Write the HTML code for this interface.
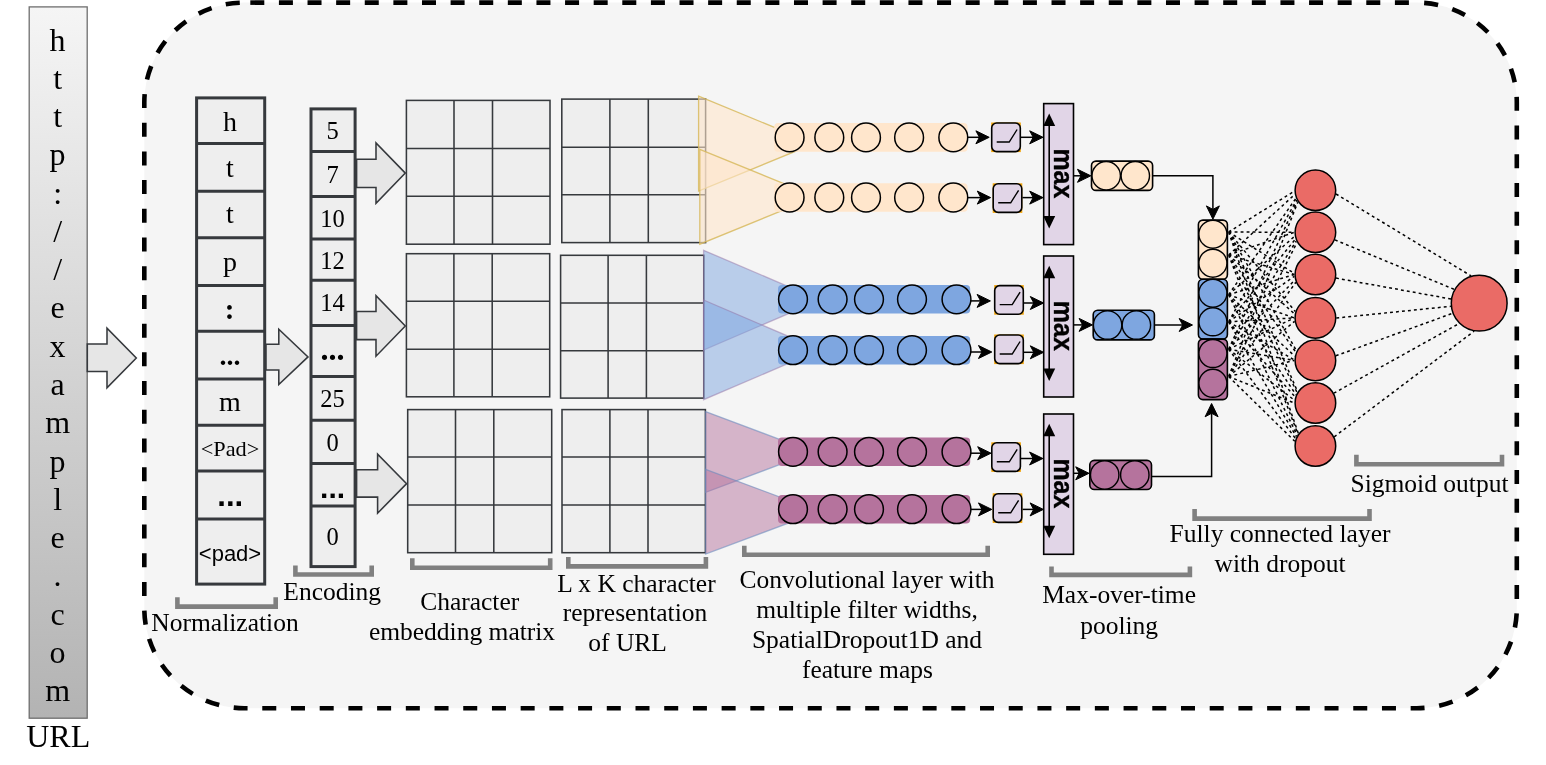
<!DOCTYPE html><html><head><meta charset="utf-8"><title>URL CNN architecture</title>
<style>html,body{margin:0;padding:0;background:#fff;overflow:hidden}svg{display:block;will-change:transform;opacity:.999}text{font-family:"Liberation Serif","DejaVu Serif",serif;fill:#000}.ss{font-family:"Liberation Sans","DejaVu Sans",sans-serif}.m{text-anchor:middle}</style></head><body>
<svg width="1546" height="765" viewBox="0 0 1546 765">
<defs><linearGradient id="ug" x1="0" y1="0" x2="0" y2="1"><stop offset="0" stop-color="#f5f5f5"/><stop offset="1" stop-color="#b3b3b3"/></linearGradient></defs>
<rect width="1546" height="765" fill="#fff"/>
<rect x="144.3" y="2.6" width="1372.5" height="705.6" rx="100" ry="100" fill="#f5f5f5"/>
<path d="M244.3 2.6H1416.8" fill="none" stroke="#000" stroke-width="4.6" stroke-dasharray="14 14.615" stroke-dashoffset="-6"/>
<path d="M1416.8 2.6A100 100 0 0 1 1516.8 102.6V608.2A100 100 0 0 1 1416.8 708.2H244.3A100 100 0 0 1 144.3 608.2V102.6A100 100 0 0 1 244.3 2.6" fill="none" stroke="#000" stroke-width="4.6" stroke-dasharray="14 14.71" stroke-dashoffset="-7.5"/>
<rect x="29.2" y="6.9" width="58" height="711.3" fill="url(#ug)" stroke="#6e6e6e" stroke-width="1.3"/>
<text class="m" x="57.6" y="50.6" font-size="32">h</text>
<text class="m" x="57.6" y="88.9" font-size="32">t</text>
<text class="m" x="57.6" y="127.1" font-size="32">t</text>
<text class="m" x="57.6" y="165.4" font-size="32">p</text>
<text class="m" x="57.6" y="203.6" font-size="32">:</text>
<text class="m" x="57.6" y="241.9" font-size="32">/</text>
<text class="m" x="57.6" y="280.2" font-size="32">/</text>
<text class="m" x="57.6" y="318.4" font-size="32">e</text>
<text class="m" x="57.6" y="356.7" font-size="32">x</text>
<text class="m" x="57.6" y="394.9" font-size="32">a</text>
<text class="m" x="57.6" y="433.2" font-size="32">m</text>
<text class="m" x="57.6" y="471.5" font-size="32">p</text>
<text class="m" x="57.6" y="509.7" font-size="32">l</text>
<text class="m" x="57.6" y="548.0" font-size="32">e</text>
<text class="m" x="57.6" y="586.2" font-size="32">.</text>
<text class="m" x="57.6" y="624.5" font-size="32">c</text>
<text class="m" x="57.6" y="662.8" font-size="32">o</text>
<text class="m" x="57.6" y="701.0" font-size="32">m</text>
<text class="m" x="58.2" y="746.6" font-size="32">URL</text>
<path d="M87.3 343.9H107V328.2L136.3 358.0L107 387.8V371.4H87.3Z" fill="#e6e6e6" stroke="#36393d" stroke-width="1.55" stroke-linejoin="miter"/>
<rect x="196.6" y="97.9" width="68.1" height="486.20000000000005" fill="#eeeeee" stroke="#36393d" stroke-width="3"/>
<path d="M196.6 143.4H264.7" stroke="#36393d" stroke-width="3"/>
<path d="M196.6 191.3H264.7" stroke="#36393d" stroke-width="3"/>
<path d="M196.6 237.7H264.7" stroke="#36393d" stroke-width="3"/>
<path d="M196.6 285.5H264.7" stroke="#36393d" stroke-width="3"/>
<path d="M196.6 331.3H264.7" stroke="#36393d" stroke-width="3"/>
<path d="M196.6 378.9H264.7" stroke="#36393d" stroke-width="3"/>
<path d="M196.6 425.2H264.7" stroke="#36393d" stroke-width="3"/>
<path d="M196.6 470.9H264.7" stroke="#36393d" stroke-width="3"/>
<path d="M196.6 518.9H264.7" stroke="#36393d" stroke-width="3"/>
<text class="m" x="230" y="130.7" font-size="28">h</text>
<text class="m" x="230" y="176.8" font-size="28">t</text>
<text class="m" x="230" y="223.3" font-size="28">t</text>
<text class="m" x="230" y="271.2" font-size="28">p</text>
<text class="m" x="229.7" y="319.3" font-size="29" font-weight="bold">:</text>
<text class="m" x="230" y="365.3" font-size="28" font-weight="bold">...</text>
<text class="m" x="230" y="410.6" font-size="28">m</text>
<text class="m" x="230" y="456.1" font-size="21.5" textLength="58.6" lengthAdjust="spacingAndGlyphs">&lt;Pad&gt;</text>
<text class="m ss" x="230.2" y="506.2" font-size="31" font-weight="bold">...</text>
<text class="m ss" x="230" y="560.5" font-size="22">&lt;pad&gt;</text>
<path d="M266 344.3H278.8V329.3L308 356.9L278.8 384.5V370H266Z" fill="#e6e6e6" stroke="#36393d" stroke-width="1.55" stroke-linejoin="miter"/>
<rect x="311.0" y="108.9" width="44.10000000000002" height="457.70000000000005" fill="#eeeeee" stroke="#36393d" stroke-width="3"/>
<path d="M311.0 151.5H355.1" stroke="#36393d" stroke-width="3"/>
<path d="M311.0 196.5H355.1" stroke="#36393d" stroke-width="3"/>
<path d="M311.0 239H355.1" stroke="#36393d" stroke-width="3"/>
<path d="M311.0 280.3H355.1" stroke="#36393d" stroke-width="3"/>
<path d="M311.0 325.6H355.1" stroke="#36393d" stroke-width="3"/>
<path d="M311.0 376.4H355.1" stroke="#36393d" stroke-width="3"/>
<path d="M311.0 420.2H355.1" stroke="#36393d" stroke-width="3"/>
<path d="M311.0 463.6H355.1" stroke="#36393d" stroke-width="3"/>
<path d="M311.0 506H355.1" stroke="#36393d" stroke-width="3"/>
<text class="m" x="332.6" y="139.4" font-size="24.5">5</text>
<text class="m" x="332.6" y="182.7" font-size="24.5">7</text>
<text class="m" x="332.6" y="227.3" font-size="24.5">10</text>
<text class="m" x="332.6" y="268.5" font-size="24.5">12</text>
<text class="m" x="332.6" y="311.4" font-size="24.5">14</text>
<text class="m" x="332.6" y="406.7" font-size="24.5">25</text>
<text class="m" x="332.6" y="451.1" font-size="24.5">0</text>
<text class="m" x="332.6" y="544.9" font-size="24.5">0</text>
<text class="m" x="332.6" y="360" font-size="32" font-weight="bold">...</text>
<text class="m ss" x="332.6" y="497.8" font-size="30" font-weight="bold">...</text>
<path d="M356.6 159.2H376V142.9L405.3 173.10000000000002L376 203.3V187.5H356.6Z" fill="#e6e6e6" stroke="#36393d" stroke-width="1.55" stroke-linejoin="miter"/>
<path d="M356.6 311.4H376V295.7L405.3 325.95L376 356.2V339.6H356.6Z" fill="#e6e6e6" stroke="#36393d" stroke-width="1.55" stroke-linejoin="miter"/>
<path d="M356.6 469.8H377.6V454.1L406.6 483.65000000000003L377.6 513.2V497.1H356.6Z" fill="#e6e6e6" stroke="#36393d" stroke-width="1.55" stroke-linejoin="miter"/>
<rect x="406.4" y="100.4" width="143.6" height="143.8" fill="#eeeeee" stroke="#36393d" stroke-width="1.55"/>
<path d="M454 100.4V244.2M492.5 100.4V244.2M406.4 148.5H550M406.4 196.3H550" stroke="#36393d" stroke-width="1.55" fill="none"/>
<rect x="561.8" y="99.1" width="143.8" height="143.5" fill="#eeeeee" stroke="#36393d" stroke-width="1.55"/>
<path d="M609.9 99.1V242.6M648.3 99.1V242.6M561.8 147.2H705.6M561.8 194.8H705.6" stroke="#36393d" stroke-width="1.55" fill="none"/>
<rect x="406.4" y="253.7" width="143.3" height="143.1" fill="#eeeeee" stroke="#36393d" stroke-width="1.55"/>
<path d="M453.9 253.7V396.8M492.2 253.7V396.8M406.4 301.3H549.7M406.4 349.2H549.7" stroke="#36393d" stroke-width="1.55" fill="none"/>
<rect x="560.6" y="255.3" width="143.2" height="142.8" fill="#eeeeee" stroke="#36393d" stroke-width="1.55"/>
<path d="M608.1 255.3V398.1M646.4 255.3V398.1M560.6 302.9H703.8M560.6 350.7H703.8" stroke="#36393d" stroke-width="1.55" fill="none"/>
<rect x="407.7" y="409.6" width="144.0" height="143.1" fill="#eeeeee" stroke="#36393d" stroke-width="1.55"/>
<path d="M455.5 409.6V552.7M493.8 409.6V552.7M407.7 456.9H551.7M407.7 505H551.7" stroke="#36393d" stroke-width="1.55" fill="none"/>
<rect x="562" y="409.6" width="143.4" height="143.1" fill="#eeeeee" stroke="#36393d" stroke-width="1.55"/>
<path d="M609.9 409.6V552.7M648 409.6V552.7M562 456.9H705.4M562 505H705.4" stroke="#36393d" stroke-width="1.55" fill="none"/>
<path d="M698.6 96.2L814 143.65L698.6 191.1Z" fill="#ffe6cc" fill-opacity="0.6" stroke="#d6b656" stroke-opacity="0.8" stroke-width="1.3"/>
<path d="M699.8 149.3L816 196.75L699.8 244.2Z" fill="#ffe6cc" fill-opacity="0.6" stroke="#d6b656" stroke-opacity="0.8" stroke-width="1.3"/>
<rect x="774.2" y="123.1" width="193.4" height="28.6" rx="4" fill="#ffe6cc"/>
<circle cx="789.6" cy="137.4" r="14.4" fill="#ffe6cc" stroke="#000" stroke-width="1.5"/>
<circle cx="829.3" cy="137.4" r="14.4" fill="#ffe6cc" stroke="#000" stroke-width="1.5"/>
<circle cx="866" cy="137.4" r="14.4" fill="#ffe6cc" stroke="#000" stroke-width="1.5"/>
<circle cx="909.1" cy="137.4" r="14.4" fill="#ffe6cc" stroke="#000" stroke-width="1.5"/>
<circle cx="953.3" cy="137.4" r="14.4" fill="#ffe6cc" stroke="#000" stroke-width="1.5"/>
<rect x="774.2" y="183.2" width="193.4" height="28.6" rx="4" fill="#ffe6cc"/>
<circle cx="789.6" cy="197.5" r="14.4" fill="#ffe6cc" stroke="#000" stroke-width="1.5"/>
<circle cx="829.3" cy="197.5" r="14.4" fill="#ffe6cc" stroke="#000" stroke-width="1.5"/>
<circle cx="866" cy="197.5" r="14.4" fill="#ffe6cc" stroke="#000" stroke-width="1.5"/>
<circle cx="909.1" cy="197.5" r="14.4" fill="#ffe6cc" stroke="#000" stroke-width="1.5"/>
<circle cx="953.3" cy="197.5" r="14.4" fill="#ffe6cc" stroke="#000" stroke-width="1.5"/>
<path d="M703.6 250.3L820 300.15L703.6 350Z" fill="#7ea6e0" fill-opacity="0.5" stroke="#9673a6" stroke-opacity="0.5" stroke-width="1.3"/>
<path d="M703.6 300L820 349.85L703.6 399.7Z" fill="#7ea6e0" fill-opacity="0.5" stroke="#9673a6" stroke-opacity="0.5" stroke-width="1.3"/>
<rect x="778" y="285.0" width="192.2" height="28.6" rx="4" fill="#7ea6e0"/>
<circle cx="793" cy="299.3" r="14.4" fill="#7ea6e0" stroke="#000" stroke-width="1.5"/>
<circle cx="832.6" cy="299.3" r="14.4" fill="#7ea6e0" stroke="#000" stroke-width="1.5"/>
<circle cx="869" cy="299.3" r="14.4" fill="#7ea6e0" stroke="#000" stroke-width="1.5"/>
<circle cx="912" cy="299.3" r="14.4" fill="#7ea6e0" stroke="#000" stroke-width="1.5"/>
<circle cx="956.5" cy="299.3" r="14.4" fill="#7ea6e0" stroke="#000" stroke-width="1.5"/>
<rect x="778" y="335.9" width="192.2" height="28.6" rx="4" fill="#7ea6e0"/>
<circle cx="793" cy="350.2" r="14.4" fill="#7ea6e0" stroke="#000" stroke-width="1.5"/>
<circle cx="832.6" cy="350.2" r="14.4" fill="#7ea6e0" stroke="#000" stroke-width="1.5"/>
<circle cx="869" cy="350.2" r="14.4" fill="#7ea6e0" stroke="#000" stroke-width="1.5"/>
<circle cx="912" cy="350.2" r="14.4" fill="#7ea6e0" stroke="#000" stroke-width="1.5"/>
<circle cx="956.5" cy="350.2" r="14.4" fill="#7ea6e0" stroke="#000" stroke-width="1.5"/>
<path d="M705.6 411.6L813 452.0L705.6 492.4Z" fill="#b5739d" fill-opacity="0.5" stroke="#6c8ebf" stroke-opacity="0.6" stroke-width="1.3"/>
<path d="M705.6 469.3L819 511.65L705.6 554Z" fill="#b5739d" fill-opacity="0.5" stroke="#6c8ebf" stroke-opacity="0.6" stroke-width="1.3"/>
<rect x="778" y="437.5" width="192.2" height="28.6" rx="4" fill="#b5739d"/>
<circle cx="793" cy="451.8" r="14.4" fill="#b5739d" stroke="#000" stroke-width="1.5"/>
<circle cx="832.6" cy="451.8" r="14.4" fill="#b5739d" stroke="#000" stroke-width="1.5"/>
<circle cx="869" cy="451.8" r="14.4" fill="#b5739d" stroke="#000" stroke-width="1.5"/>
<circle cx="912" cy="451.8" r="14.4" fill="#b5739d" stroke="#000" stroke-width="1.5"/>
<circle cx="956.5" cy="451.8" r="14.4" fill="#b5739d" stroke="#000" stroke-width="1.5"/>
<rect x="778" y="494.9" width="192.2" height="28.6" rx="4" fill="#b5739d"/>
<circle cx="793" cy="509.2" r="14.4" fill="#b5739d" stroke="#000" stroke-width="1.5"/>
<circle cx="832.6" cy="509.2" r="14.4" fill="#b5739d" stroke="#000" stroke-width="1.5"/>
<circle cx="869" cy="509.2" r="14.4" fill="#b5739d" stroke="#000" stroke-width="1.5"/>
<circle cx="912" cy="509.2" r="14.4" fill="#b5739d" stroke="#000" stroke-width="1.5"/>
<circle cx="956.5" cy="509.2" r="14.4" fill="#b5739d" stroke="#000" stroke-width="1.5"/>
<path d="M967.8 137.3H983.2" stroke="#000" stroke-width="1.5" fill="none"/>
<path transform="translate(989.2 137.3) rotate(0)" d="M0 0L-13.3 -6.5L-9.8 0L-13.3 6.5Z" fill="#000" stroke="#000" stroke-width="1" stroke-linejoin="miter"/>
<rect x="991.2" y="122.5" width="29.6" height="29.6" fill="#f0a30a"/>
<rect x="991.7" y="123.0" width="28.6" height="28.6" rx="5" fill="#e1d5e7" stroke="#000" stroke-width="1.6"/>
<path d="M996.7 142.0H1009.2L1017.1 129.5" stroke="#000" stroke-width="1.4" fill="none"/>
<path d="M1021 137.3H1037" stroke="#000" stroke-width="1.5" fill="none"/>
<path transform="translate(1043 137.3) rotate(0)" d="M0 0L-13.3 -6.5L-9.8 0L-13.3 6.5Z" fill="#000" stroke="#000" stroke-width="1" stroke-linejoin="miter"/>
<path d="M967.8 197.6H984.6" stroke="#000" stroke-width="1.5" fill="none"/>
<path transform="translate(990.6 197.6) rotate(0)" d="M0 0L-13.3 -6.5L-9.8 0L-13.3 6.5Z" fill="#000" stroke="#000" stroke-width="1" stroke-linejoin="miter"/>
<rect x="992.7" y="183.3" width="29.6" height="29.6" fill="#f0a30a"/>
<rect x="993.2" y="183.8" width="28.6" height="28.6" rx="5" fill="#e1d5e7" stroke="#000" stroke-width="1.6"/>
<path d="M998.2 202.8H1010.7L1018.6 190.3" stroke="#000" stroke-width="1.4" fill="none"/>
<path d="M1022.4 197.6H1037" stroke="#000" stroke-width="1.5" fill="none"/>
<path transform="translate(1043 197.6) rotate(0)" d="M0 0L-13.3 -6.5L-9.8 0L-13.3 6.5Z" fill="#000" stroke="#000" stroke-width="1" stroke-linejoin="miter"/>
<rect x="1043.7" y="103.6" width="29.8" height="141.0" fill="#e1d5e7" stroke="#000" stroke-width="1.6"/>
<path d="M1049.2 123.39999999999999V218.5" stroke="#000" stroke-width="1.6"/>
<path d="M1049.2 113.39999999999999l-6 12.5h12Z" fill="#000"/>
<path d="M1049.2 228.5l-6 -12.5h12Z" fill="#000"/>
<text class="ss" transform="translate(1053.5 148.4) rotate(90) scale(0.905 1)" font-size="27.6" stroke="#000" stroke-width="0.35" font-weight="bold">max</text>
<path d="M970.8 300.9H984.4" stroke="#000" stroke-width="1.5" fill="none"/>
<path transform="translate(990.4 300.9) rotate(0)" d="M0 0L-13.3 -6.5L-9.8 0L-13.3 6.5Z" fill="#000" stroke="#000" stroke-width="1" stroke-linejoin="miter"/>
<rect x="994.2" y="285.1" width="29.6" height="29.6" fill="#f0a30a"/>
<rect x="994.7" y="285.6" width="28.6" height="28.6" rx="5" fill="#e1d5e7" stroke="#000" stroke-width="1.6"/>
<path d="M999.7 304.6H1012.2L1020.1 292.1" stroke="#000" stroke-width="1.4" fill="none"/>
<path d="M1024 303H1037.6" stroke="#000" stroke-width="1.5" fill="none"/>
<path transform="translate(1043.6 303) rotate(0)" d="M0 0L-13.3 -6.5L-9.8 0L-13.3 6.5Z" fill="#000" stroke="#000" stroke-width="1" stroke-linejoin="miter"/>
<path d="M970.8 352H985.8" stroke="#000" stroke-width="1.5" fill="none"/>
<path transform="translate(991.8 352) rotate(0)" d="M0 0L-13.3 -6.5L-9.8 0L-13.3 6.5Z" fill="#000" stroke="#000" stroke-width="1" stroke-linejoin="miter"/>
<rect x="994.2" y="334.5" width="29.6" height="29.6" fill="#f0a30a"/>
<rect x="994.7" y="335.0" width="28.6" height="28.6" rx="5" fill="#e1d5e7" stroke="#000" stroke-width="1.6"/>
<path d="M999.7 354.0H1012.2L1020.1 341.5" stroke="#000" stroke-width="1.4" fill="none"/>
<path d="M1024 352.3H1037.6" stroke="#000" stroke-width="1.5" fill="none"/>
<path transform="translate(1043.6 352.3) rotate(0)" d="M0 0L-13.3 -6.5L-9.8 0L-13.3 6.5Z" fill="#000" stroke="#000" stroke-width="1" stroke-linejoin="miter"/>
<rect x="1043.7" y="256" width="29.8" height="141.0" fill="#e1d5e7" stroke="#000" stroke-width="1.6"/>
<path d="M1049.2 275.8V370.9" stroke="#000" stroke-width="1.6"/>
<path d="M1049.2 265.8l-6 12.5h12Z" fill="#000"/>
<path d="M1049.2 380.9l-6 -12.5h12Z" fill="#000"/>
<text class="ss" transform="translate(1053.5 300.8) rotate(90) scale(0.905 1)" font-size="27.6" stroke="#000" stroke-width="0.35" font-weight="bold">max</text>
<path d="M970.8 453.2H985" stroke="#000" stroke-width="1.5" fill="none"/>
<path transform="translate(991 453.2) rotate(0)" d="M0 0L-13.3 -6.5L-9.8 0L-13.3 6.5Z" fill="#000" stroke="#000" stroke-width="1" stroke-linejoin="miter"/>
<rect x="991.3" y="442.3" width="29.6" height="29.6" fill="#f0a30a"/>
<rect x="991.8" y="442.8" width="28.6" height="28.6" rx="5" fill="#e1d5e7" stroke="#000" stroke-width="1.6"/>
<path d="M996.8 461.8H1009.3L1017.2 449.3" stroke="#000" stroke-width="1.4" fill="none"/>
<path d="M1021 458.5H1036.9" stroke="#000" stroke-width="1.5" fill="none"/>
<path transform="translate(1042.9 458.5) rotate(0)" d="M0 0L-13.3 -6.5L-9.8 0L-13.3 6.5Z" fill="#000" stroke="#000" stroke-width="1" stroke-linejoin="miter"/>
<path d="M970.8 509.4H985.8" stroke="#000" stroke-width="1.5" fill="none"/>
<path transform="translate(991.8 509.4) rotate(0)" d="M0 0L-13.3 -6.5L-9.8 0L-13.3 6.5Z" fill="#000" stroke="#000" stroke-width="1" stroke-linejoin="miter"/>
<rect x="992.7" y="493.3" width="29.6" height="29.6" fill="#f0a30a"/>
<rect x="993.2" y="493.8" width="28.6" height="28.6" rx="5" fill="#e1d5e7" stroke="#000" stroke-width="1.6"/>
<path d="M998.2 512.8H1010.7L1018.6 500.3" stroke="#000" stroke-width="1.4" fill="none"/>
<path d="M1022.6 509.4H1037.4" stroke="#000" stroke-width="1.5" fill="none"/>
<path transform="translate(1043.4 509.4) rotate(0)" d="M0 0L-13.3 -6.5L-9.8 0L-13.3 6.5Z" fill="#000" stroke="#000" stroke-width="1" stroke-linejoin="miter"/>
<rect x="1043.7" y="414" width="29.8" height="140.3" fill="#e1d5e7" stroke="#000" stroke-width="1.6"/>
<path d="M1049.2 433.8V528.1999999999999" stroke="#000" stroke-width="1.6"/>
<path d="M1049.2 423.8l-6 12.5h12Z" fill="#000"/>
<path d="M1049.2 538.1999999999999l-6 -12.5h12Z" fill="#000"/>
<text class="ss" transform="translate(1053.5 458.4) rotate(90) scale(0.905 1)" font-size="27.6" stroke="#000" stroke-width="0.35" font-weight="bold">max</text>
<path d="M1073.5 175.8H1084.8" stroke="#000" stroke-width="1.5" fill="none"/>
<path transform="translate(1090.8 175.8) rotate(0)" d="M0 0L-13.3 -6.5L-9.8 0L-13.3 6.5Z" fill="#000" stroke="#000" stroke-width="1" stroke-linejoin="miter"/>
<rect x="1091.5" y="161.1" width="61.1" height="29.3" rx="4.5" fill="#ffe6cc" stroke="#000" stroke-width="1.6"/>
<circle cx="1106.2" cy="175.7" r="14.2" fill="#ffe6cc" stroke="#000" stroke-width="1.4"/>
<circle cx="1135.3" cy="175.7" r="14.2" fill="#ffe6cc" stroke="#000" stroke-width="1.4"/>
<path d="M1073.5 324.9H1086.4" stroke="#000" stroke-width="1.5" fill="none"/>
<path transform="translate(1092.4 324.9) rotate(0)" d="M0 0L-13.3 -6.5L-9.8 0L-13.3 6.5Z" fill="#000" stroke="#000" stroke-width="1" stroke-linejoin="miter"/>
<rect x="1093.2" y="310.3" width="61.2" height="29.6" rx="4.5" fill="#7ea6e0" stroke="#000" stroke-width="1.6"/>
<circle cx="1107.6" cy="325.1" r="14.2" fill="#7ea6e0" stroke="#000" stroke-width="1.4"/>
<circle cx="1136.4" cy="325.1" r="14.2" fill="#7ea6e0" stroke="#000" stroke-width="1.4"/>
<path d="M1073.5 473.3H1083" stroke="#000" stroke-width="1.5" fill="none"/>
<path transform="translate(1089 473.3) rotate(0)" d="M0 0L-13.3 -6.5L-9.8 0L-13.3 6.5Z" fill="#000" stroke="#000" stroke-width="1" stroke-linejoin="miter"/>
<rect x="1089.8" y="460.4" width="61.7" height="29.1" rx="4.5" fill="#b5739d" stroke="#000" stroke-width="1.6"/>
<circle cx="1104.7" cy="474.9" r="14.2" fill="#b5739d" stroke="#000" stroke-width="1.4"/>
<circle cx="1134.8" cy="474.9" r="14.2" fill="#b5739d" stroke="#000" stroke-width="1.4"/>
<path d="M1152.6 175.7H1212.9V213" stroke="#000" stroke-width="1.5" fill="none"/>
<path transform="translate(1212.9 219.2) rotate(90)" d="M0 0L-13.3 -6.5L-9.8 0L-13.3 6.5Z" fill="#000" stroke="#000" stroke-width="1" stroke-linejoin="miter"/>
<path d="M1154.4 325H1186.5" stroke="#000" stroke-width="1.5" fill="none"/>
<path transform="translate(1192.5 325) rotate(0)" d="M0 0L-13.3 -6.5L-9.8 0L-13.3 6.5Z" fill="#000" stroke="#000" stroke-width="1" stroke-linejoin="miter"/>
<path d="M1151.5 476.4H1211.6V410" stroke="#000" stroke-width="1.5" fill="none"/>
<path transform="translate(1211.6 403.5) rotate(-90)" d="M0 0L-13.3 -6.5L-9.8 0L-13.3 6.5Z" fill="#000" stroke="#000" stroke-width="1" stroke-linejoin="miter"/>
<path d="M1228.6 232.0L1294.3 191.2M1228.6 232.0L1294.3 232.3M1228.6 232.0L1294.3 273.4M1228.6 232.0L1295.3 311.5M1228.6 232.0L1296.6 350.9M1228.6 232.0L1297.6 391.7M1228.6 232.0L1298.4 433.5M1228.6 255.0L1294.7 194.5M1228.6 255.0L1294.3 232.3M1228.6 255.0L1294.3 274.5M1228.6 255.0L1294.7 314.0M1228.6 255.0L1295.9 352.4M1228.6 255.0L1297.1 392.5M1228.6 255.0L1298.0 434.1M1228.6 294.7L1295.9 198.3M1228.6 294.7L1294.7 236.2M1228.6 294.7L1294.3 274.5M1228.6 294.7L1294.3 317.9M1228.6 294.7L1294.7 356.1M1228.6 294.7L1296.0 394.7M1228.6 294.7L1297.2 435.4M1228.6 321.8L1296.6 200.0M1228.6 321.8L1295.4 239.1M1228.6 321.8L1294.4 276.3M1228.6 321.8L1294.3 317.9M1228.6 321.8L1294.3 360.0M1228.6 321.8L1295.2 397.0M1228.6 321.8L1296.4 436.7M1228.6 349.2L1297.3 201.2M1228.6 349.2L1296.2 241.1M1228.6 349.2L1295.0 279.8M1228.6 349.2L1294.3 317.9M1228.6 349.2L1294.3 360.4M1228.6 349.2L1294.5 400.3M1228.6 349.2L1295.6 438.6M1228.6 376.5L1297.9 202.1M1228.6 376.5L1297.0 242.6M1228.6 376.5L1295.8 282.3M1228.6 376.5L1294.6 321.3M1228.6 376.5L1294.3 360.4M1228.6 376.5L1294.3 403.0M1228.6 376.5L1294.8 441.3M1336.0 194.0L1471.1 275.9M1334.9 239.9L1454.3 289.4M1336.0 278.1L1451.0 299.0M1336.3 318.0L1450.9 306.3M1335.8 355.8L1452.6 313.3M1333.8 393.2L1459.2 323.5M1334.2 436.8L1474.1 331.2" stroke="#000" stroke-width="1.5" stroke-dasharray="2.9 3.1" fill="none"/>
<rect x="1198.4" y="220.1" width="29.0" height="59.1" rx="4.5" fill="#ffe6cc" stroke="#000" stroke-width="1.6"/>
<rect x="1198.4" y="279.2" width="29.0" height="59.9" rx="4.5" fill="#7ea6e0" stroke="#000" stroke-width="1.6"/>
<rect x="1198.4" y="339.1" width="29.0" height="60.5" rx="4.5" fill="#b5739d" stroke="#000" stroke-width="1.6"/>
<circle cx="1212.9" cy="234.2" r="14" fill="#ffe6cc" stroke="#000" stroke-width="1.4"/>
<circle cx="1212.9" cy="263.2" r="14" fill="#ffe6cc" stroke="#000" stroke-width="1.4"/>
<circle cx="1212.9" cy="293.2" r="14" fill="#7ea6e0" stroke="#000" stroke-width="1.4"/>
<circle cx="1212.9" cy="321.8" r="14" fill="#7ea6e0" stroke="#000" stroke-width="1.4"/>
<circle cx="1212.9" cy="353.5" r="14" fill="#b5739d" stroke="#000" stroke-width="1.4"/>
<circle cx="1212.9" cy="383.3" r="14" fill="#b5739d" stroke="#000" stroke-width="1.4"/>
<circle cx="1315.4" cy="190.3" r="20.3" fill="#ea6b66" stroke="#000" stroke-width="1.5"/>
<circle cx="1315.4" cy="232.3" r="20.3" fill="#ea6b66" stroke="#000" stroke-width="1.5"/>
<circle cx="1315.4" cy="274.5" r="20.3" fill="#ea6b66" stroke="#000" stroke-width="1.5"/>
<circle cx="1315.4" cy="317.9" r="20.3" fill="#ea6b66" stroke="#000" stroke-width="1.5"/>
<circle cx="1315.4" cy="360.4" r="20.3" fill="#ea6b66" stroke="#000" stroke-width="1.5"/>
<circle cx="1315.4" cy="403" r="20.3" fill="#ea6b66" stroke="#000" stroke-width="1.5"/>
<circle cx="1315.4" cy="446" r="20.3" fill="#ea6b66" stroke="#000" stroke-width="1.5"/>
<circle cx="1479.2" cy="303.2" r="27.9" fill="#ea6b66" stroke="#000" stroke-width="1.5"/>
<path d="M177.4 597.3V606.6H275.7V597.3" stroke="#808080" stroke-width="4.6" fill="none"/>
<path d="M295.40000000000003 565.4V574.5H371.7V565.4" stroke="#808080" stroke-width="4.6" fill="none"/>
<path d="M412.3 558.3V567.7H550.2V558.3" stroke="#808080" stroke-width="4.6" fill="none"/>
<path d="M568.3 557V566.4000000000001H705.9000000000001V557" stroke="#808080" stroke-width="4.6" fill="none"/>
<path d="M744.3 545.8V554.7H987.7V545.8" stroke="#808080" stroke-width="4.6" fill="none"/>
<path d="M1051.5 566.5V574.9000000000001H1189.9V566.5" stroke="#808080" stroke-width="4.6" fill="none"/>
<path d="M1194.6 508.9V518.6H1369.5V508.9" stroke="#808080" stroke-width="4.6" fill="none"/>
<path d="M1356.3999999999999 454.8V464.3H1502.0V454.8" stroke="#808080" stroke-width="4.6" fill="none"/>
<text class="m" x="225" y="631.4" font-size="25.5">Normalization</text>
<text class="m" x="332.2" y="599.5" font-size="25.5">Encoding</text>
<text class="m" x="469.7" y="610.3" font-size="25.5">Character</text>
<text class="m" x="462" y="640.2" font-size="25.5">embedding matrix</text>
<text class="m" x="636.5" y="591.6" font-size="25.5">L x K character</text>
<text class="m" x="635" y="621.3" font-size="25.5">representation</text>
<text class="m" x="627.6" y="651.3" font-size="25.5">of URL</text>
<text class="m" x="867" y="587.9" font-size="25.5">Convolutional layer with</text>
<text class="m" x="867" y="618.3" font-size="25.5">multiple filter widths,</text>
<text class="m" x="867" y="648.3" font-size="25.5">SpatialDropout1D and</text>
<text class="m" x="867.4" y="678.4" font-size="25.5">feature maps</text>
<text class="m" x="1119.1" y="603.1" font-size="25.5">Max-over-time</text>
<text class="m" x="1119.1" y="633.8" font-size="25.5">pooling</text>
<text class="m" x="1280" y="542.1" font-size="25.5">Fully connected layer</text>
<text class="m" x="1280" y="572.3" font-size="25.5">with dropout</text>
<text class="m" x="1429.5" y="491.7" font-size="25.5">Sigmoid output</text>
</svg></body></html>
